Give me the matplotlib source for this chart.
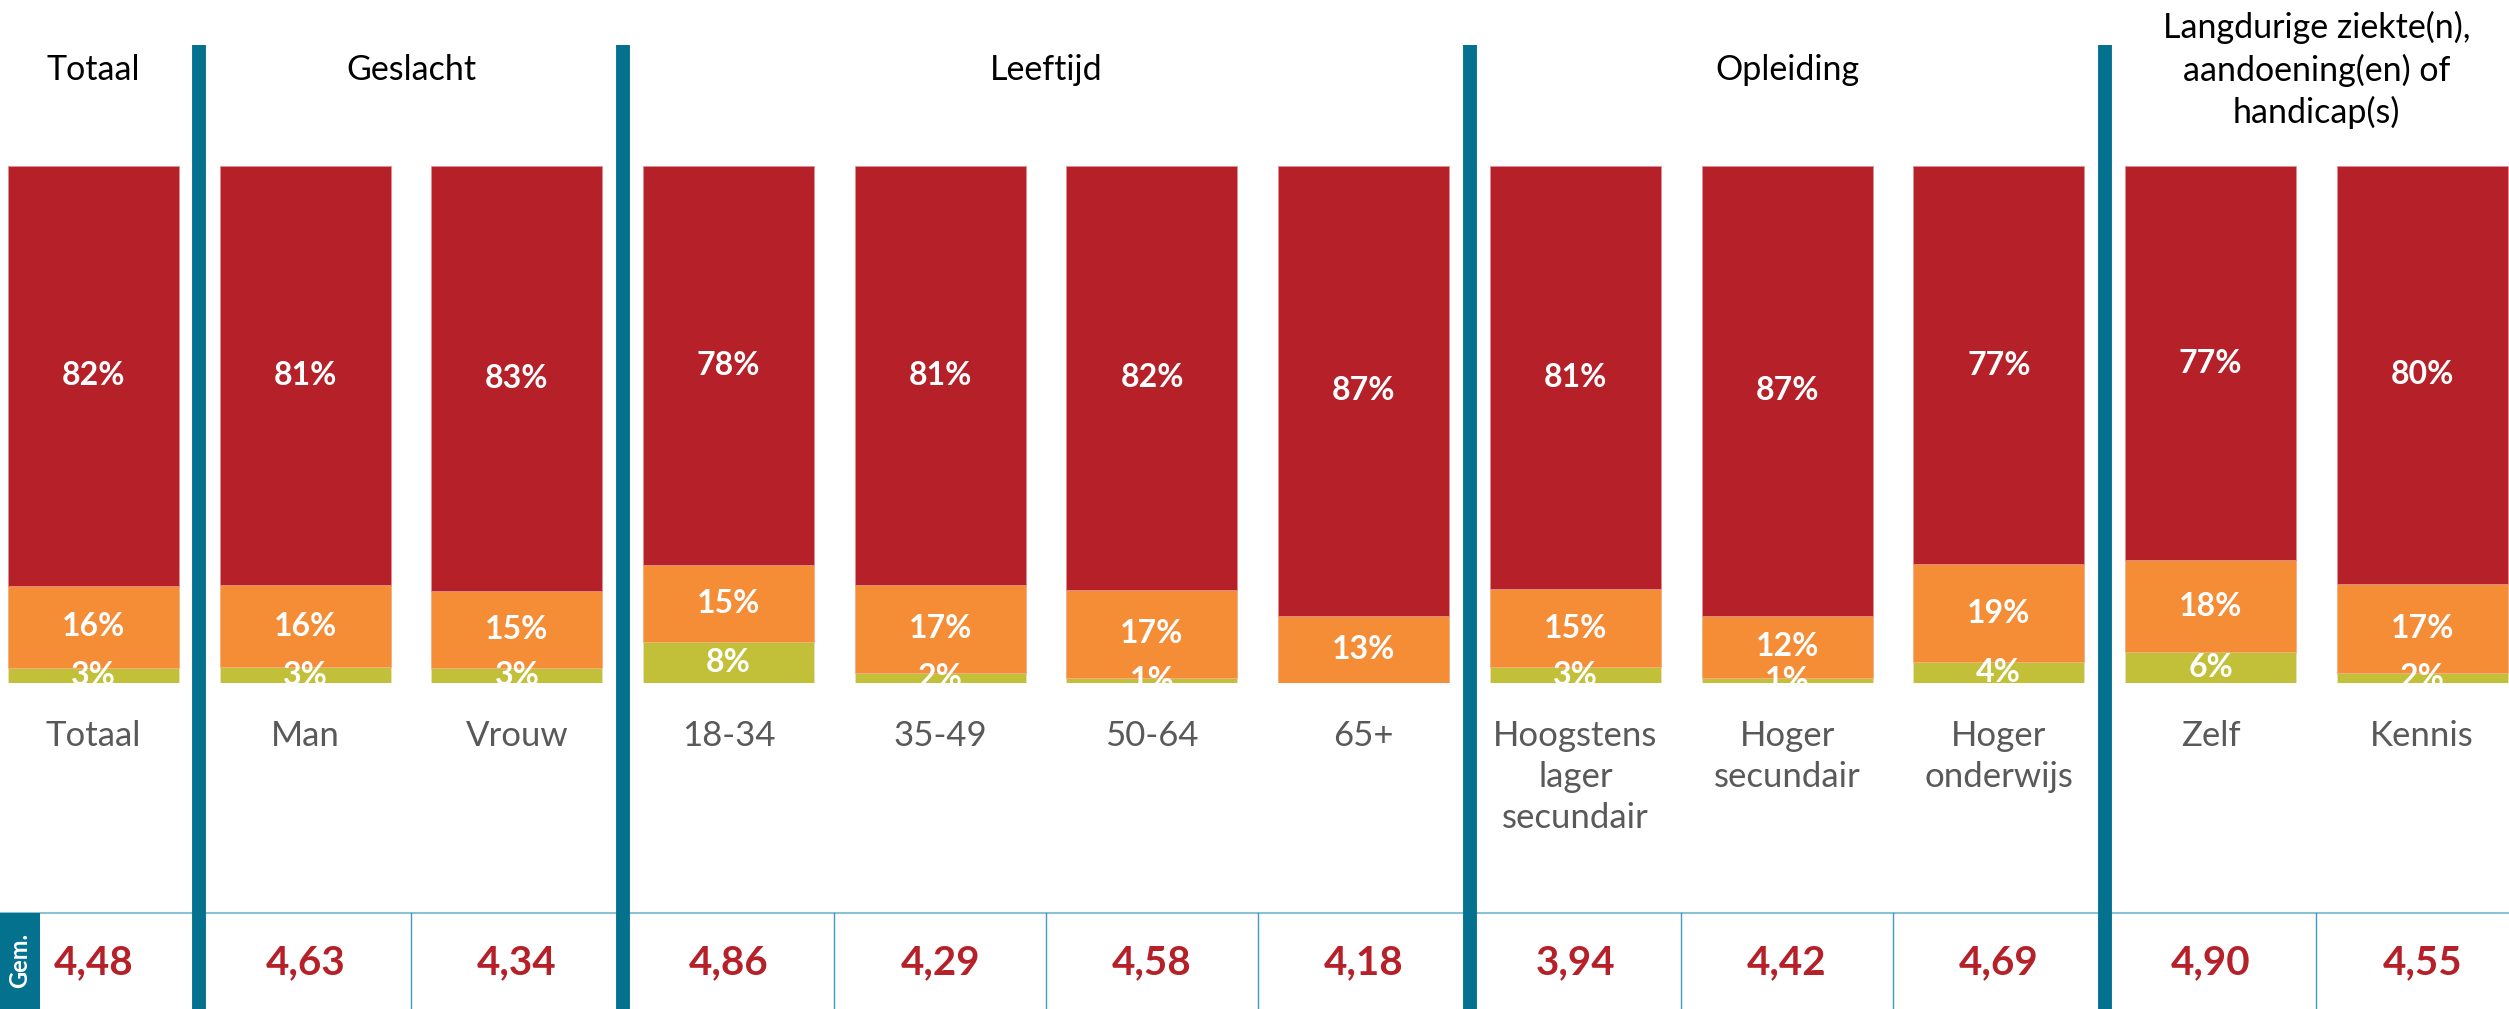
import numpy as np
import matplotlib.pyplot as plt

# data
categories = ["Totaal", "Man", "Vrouw", "18-34", "35-49", "50-64", "65+",
              "Hoogstens\nlager\nsecundair", "Hoger\nsecundair", "Hoger\nonderwijs",
              "Zelf", "Kennis"]
red_pct = [82, 81, 83, 78, 81, 82, 87, 81, 87, 77, 77, 80]
orange_pct = [16, 16, 15, 15, 17, 17, 13, 15, 12, 19, 18, 17]
green_pct = [3, 3, 3, 8, 2, 1, 0, 3, 1, 4, 6, 2]
gem = [4.48, 4.63, 4.34, 4.86, 4.29, 4.58, 4.18, 3.94, 4.42, 4.69, 4.90, 4.55]
groups = ["Totaal", "Geslacht", "Leeftijd", "Opleiding",
          "Langdurige ziekte(n),\naandoening(en) of\nhandicap(s)"]
group_sizes = [1, 2, 4, 3, 2]

RED = '#B52029'
ORANGE = '#F58C36'
GREEN = '#C2BF39'
BLUE = '#04728F'
FONT = 'Lato'

W, H = 2509, 1009
pitch = 211.7
x0 = 93.5
xlim = (-x0 / pitch, (W - x0) / pitch)
bar_top, bar_bot = 166, 683

fig = plt.figure(figsize=(W / 100, H / 100), dpi=100)
fig.set_facecolor('white')

# overlay axes in pixel coords for text/table
ov = fig.add_axes([0, 0, 1, 1])
ov.set_xlim(*xlim)
ov.set_ylim(H, 0)
ov.axis('off')

# bar axes
ax = fig.add_axes([0, 1 - bar_bot / H, 1, (bar_bot - bar_top) / H])
ax.set_xlim(*xlim)
ax.set_ylim(0, 1)
ax.axis('off')
ax.patch.set_alpha(0)

x = np.arange(len(categories))
tot = np.array(red_pct) + np.array(orange_pct) + np.array(green_pct)
g = np.array(green_pct) / tot
o = np.array(orange_pct) / tot
r = np.array(red_pct) / tot
bw = 171 / pitch
ax.bar(x, g, bw, color=GREEN, edgecolor='#e8e0c0', linewidth=0.6)
ax.bar(x, o, bw, bottom=g, color=ORANGE, edgecolor='#f0b080', linewidth=0.6)
ax.bar(x, r, bw, bottom=g + o, color=RED, edgecolor='#e09090', linewidth=0.6)

lab = dict(ha='center', va='center', color='white', fontsize=23,
           fontweight='bold', family=FONT)
for i in x:
    if green_pct[i] > 0:
        ax.text(i, g[i] / 2, f"{green_pct[i]}%", **lab)
    ax.text(i, g[i] + o[i] / 2, f"{orange_pct[i]}%", **lab)
    ax.text(i, g[i] + o[i] + r[i] / 2, f"{red_pct[i]}%", **lab)

# category labels
for i, c in enumerate(categories):
    ov.text(i, 720, c, ha='center', va='top', color='#595959', fontsize=25,
            family=FONT, linespacing=1.34)

# group headers + separators
start = 0
seps = []
for name, n in zip(groups, group_sizes):
    ov.text(start + (n - 1) / 2, 70, name, ha='center', va='center',
            color='black', fontsize=24.5, family=FONT, linespacing=1.35)
    start += n
    seps.append(start - 0.5)
seps = seps[:-1]
for s in seps:
    ov.plot([s, s], [45, H], color=BLUE, linewidth=10, solid_capstyle='butt', zorder=5)

# table
ov.plot(list(xlim), [913, 913], color='#8cc0d4', linewidth=1.5, zorder=4)
for s in x[:-1] + 0.5:
    if s not in seps:
        ov.plot([s, s], [913, H], color='#3d9dc4', linewidth=1, zorder=4)
for i, v in enumerate(gem):
    ov.text(i, 963, f"{v:.2f}".replace('.', ','), ha='center', va='center',
            color=RED, fontsize=29, fontweight='bold', family=FONT)

# Gem. box
gx0 = xlim[0]
gx1 = xlim[0] + 40 / pitch
ov.fill_between([gx0, gx1], 913, H, color=BLUE, zorder=6, linewidth=0)
ov.text((gx0 + gx1) / 2, 960, "Gem.", rotation=90, ha='center', va='center',
        color='white', fontsize=17, fontweight='bold', family=FONT, zorder=7)

fig.savefig('out.png', dpi=100)
